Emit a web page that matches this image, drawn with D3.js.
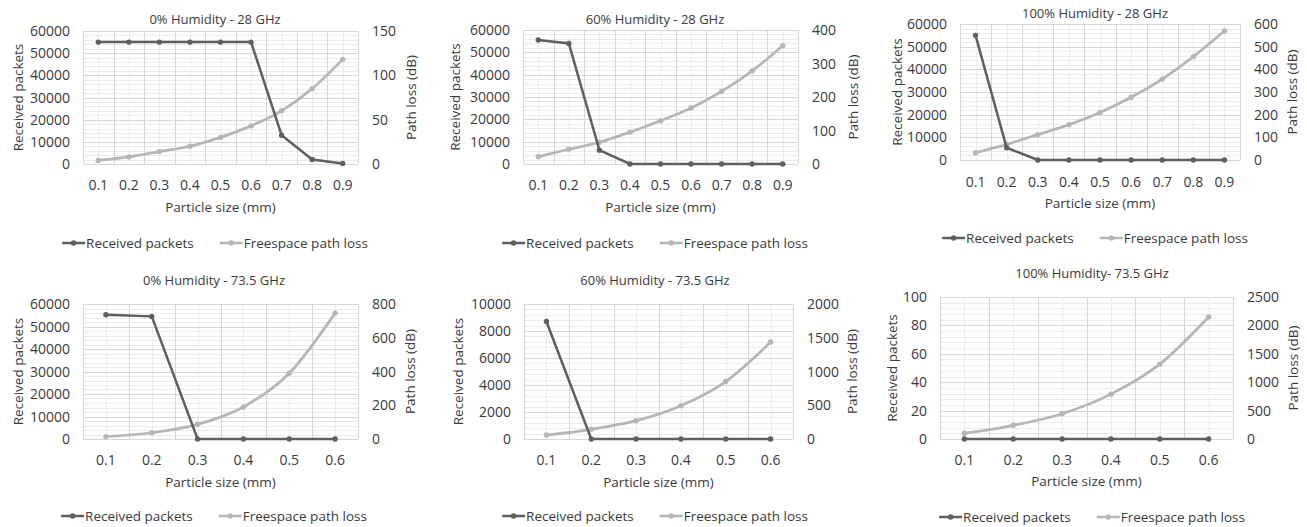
<!DOCTYPE html>
<meta charset="utf-8">
<html>
  <head>
    <style>
      body { margin: 0; background: #fff; }
      text { font-family: "Open Sans", sans-serif; fill: #3a3a3a; }
      .tick-label { font-size: 14px; }
      .axis-title { font-size: 13.5px; }
      .chart-title { font-size: 13px; }
      .legend-text { font-size: 13.5px; }
    </style>
    <script src="https://d3js.org/d3.v7.min.js"></script>
  </head>
  <body>
<div id="my_dataviz"></div>

<script type="text/javascript">
// categories
var sizes28 = ["0.1", "0.2", "0.3", "0.4", "0.5", "0.6", "0.7", "0.8", "0.9"];
var sizes73 = ["0.1", "0.2", "0.3", "0.4", "0.5", "0.6"];

var titles = ["0% Humidity - 28 GHz", "60% Humidity - 28 GHz", "100% Humidity - 28 GHz",
              "0% Humidity - 73.5 GHz", "60% Humidity - 73.5 GHz", "100% Humidity- 73.5 GHz"];

// Received packets per chart
var received = [
  [55000, 55000, 55000, 55000, 55000, 55000, 13000, 2000, 200],
  [55500, 54000, 6200, 0, 0, 0, 0, 0, 0],
  [55000, 5400, 0, 0, 0, 0, 0, 0, 0],
  [55200, 54500, 0, 0, 0, 0],
  [8700, 0, 0, 0, 0, 0],
  [0, 0, 0, 0, 0, 0]
];

// Freespace path loss (dB) per chart
var pathLoss = [
  [4, 8, 14, 20, 30, 43, 60, 85, 118],
  [22, 44, 65, 95, 129, 167, 217, 278, 353],
  [32, 69, 112, 156, 210, 277, 357, 456, 569],
  [14, 37, 87, 190, 390, 746],
  [59, 144, 272, 494, 851, 1436],
  [100, 241, 445, 790, 1318, 2149]
];

// axis ranges
var leftMax = [60000, 60000, 60000, 60000, 10000, 100];
var leftStep = [10000, 10000, 10000, 10000, 2000, 20];
var rightMax = [150, 400, 600, 800, 2000, 2500];
var rightStep = [50, 100, 100, 200, 500, 500];

// layout of each chart on the page
var layout = [
  {l: 83,  r: 358,  t: 31,  b: 164, cx: 215,  titleY: 19,  tickY: 185, xTitleY: 207, legY: 243, yt: 18,  yt2: 411},
  {l: 523, r: 798,  t: 30,  b: 164, cx: 655,  titleY: 19,  tickY: 185, xTitleY: 207, legY: 243, yt: 455, yt2: 853},
  {l: 960, r: 1240, t: 24,  b: 160, cx: 1095, titleY: 13,  tickY: 182, xTitleY: 203, legY: 238, yt: 897, yt2: 1292},
  {l: 83,  r: 358,  t: 304, b: 439, cx: 214,  titleY: 280, tickY: 460, xTitleY: 482, legY: 516, yt: 18,  yt2: 410},
  {l: 524, r: 793,  t: 304, b: 439, cx: 655,  titleY: 280, tickY: 460, xTitleY: 482, legY: 516, yt: 458, yt2: 852},
  {l: 940, r: 1233, t: 297, b: 439, cx: 1092, titleY: 273, tickY: 460, xTitleY: 481, legY: 517, yt: 892, yt2: 1293}
];

var darkColor = "#5f5f5f", lightColor = "#b6b6b6";

var svg = d3.select("#my_dataviz")
  .append("svg")
  .attr("width", 1307)
  .attr("height", 527);

layout.forEach(function(p, i) {
  var cats = received[i].length == 9 ? sizes28 : sizes73;
  var g = svg.append("g");

  var xBand = d3.scaleBand().domain(cats).range([p.l, p.r]);
  var x = function(c) { return xBand(c) + xBand.bandwidth() / 2; };
  var y = d3.scaleLinear().domain([0, leftMax[i]]).range([p.b, p.t]);
  var y2 = d3.scaleLinear().domain([0, rightMax[i]]).range([p.b, p.t]);

  // minor horizontal gridlines
  var minor = d3.range(0, leftMax[i] + 1e-9, leftStep[i] / 5);
  g.selectAll(".hminor").data(minor).enter().append("line")
    .attr("x1", p.l).attr("x2", p.r)
    .attr("y1", function(d) { return Math.round(y(d)) + 0.5; })
    .attr("y2", function(d) { return Math.round(y(d)) + 0.5; })
    .attr("stroke", "#ececec").attr("stroke-width", 1);

  // minor vertical gridlines (category centres)
  g.selectAll(".vminor").data(cats).enter().append("line")
    .attr("x1", function(d) { return Math.round(x(d)) + 0.5; })
    .attr("x2", function(d) { return Math.round(x(d)) + 0.5; })
    .attr("y1", p.t).attr("y2", p.b)
    .attr("stroke", "#ececec").attr("stroke-width", 1);

  // major horizontal gridlines
  var major = d3.range(0, leftMax[i] + 1e-9, leftStep[i]);
  g.selectAll(".hmajor").data(major).enter().append("line")
    .attr("x1", p.l).attr("x2", p.r)
    .attr("y1", function(d) { return Math.round(y(d)) + 0.5; })
    .attr("y2", function(d) { return Math.round(y(d)) + 0.5; })
    .attr("stroke", "#d6d6d6").attr("stroke-width", 1);

  // major vertical gridlines (category boundaries)
  var bounds = cats.map(function(c) { return xBand(c); }).concat([p.r]);
  g.selectAll(".vmajor").data(bounds).enter().append("line")
    .attr("x1", function(d) { return Math.round(d) + 0.5; })
    .attr("x2", function(d) { return Math.round(d) + 0.5; })
    .attr("y1", p.t).attr("y2", p.b)
    .attr("stroke", "#d6d6d6").attr("stroke-width", 1);

  // left axis labels
  g.selectAll(".ylab").data(major).enter().append("text")
    .attr("class", "tick-label")
    .attr("x", p.l - 13)
    .attr("y", function(d) { return y(d); })
    .attr("dy", "0.36em")
    .style("text-anchor", "end")
    .text(function(d) { return d; });

  // right axis labels
  var ticks2 = d3.range(0, rightMax[i] + 1e-9, rightStep[i]);
  g.selectAll(".y2lab").data(ticks2).enter().append("text")
    .attr("class", "tick-label")
    .attr("x", p.r + 14)
    .attr("y", function(d) { return y2(d); })
    .attr("dy", "0.36em")
    .text(function(d) { return d; });

  // x labels
  g.selectAll(".xlab").data(cats).enter().append("text")
    .attr("class", "tick-label")
    .attr("x", function(d) { return x(d); })
    .attr("y", p.tickY)
    .attr("dy", "0.36em")
    .style("text-anchor", "middle")
    .text(function(d) { return d; });

  // titles
  g.append("text").attr("class", "chart-title")
    .attr("x", p.cx).attr("y", p.titleY).attr("dy", "0.36em")
    .style("text-anchor", "middle").text(titles[i]);
  g.append("text").attr("class", "axis-title")
    .attr("x", (p.l + p.r) / 2).attr("y", p.xTitleY).attr("dy", "0.36em")
    .style("text-anchor", "middle").text("Particle size (mm)");
  g.append("text").attr("class", "axis-title")
    .attr("transform", "translate(" + p.yt + "," + (p.t + p.b) / 2 + ") rotate(-90)")
    .attr("dy", "0.36em")
    .style("text-anchor", "middle").text("Received packets");
  g.append("text").attr("class", "axis-title")
    .attr("transform", "translate(" + p.yt2 + "," + (p.t + p.b) / 2 + ") rotate(-90)")
    .attr("dy", "0.36em")
    .style("text-anchor", "middle").text("Path loss (dB)");

  // series
  var lossLine = d3.line()
    .x(function(d, j) { return x(cats[j]); })
    .y(function(d) { return y2(d); })
    .curve(d3.curveMonotoneX);
  g.append("path").datum(pathLoss[i])
    .attr("d", lossLine)
    .attr("fill", "none").attr("stroke", lightColor).attr("stroke-width", 2.75);
  g.selectAll(".lossdot").data(pathLoss[i]).enter().append("circle")
    .attr("cx", function(d, j) { return x(cats[j]); })
    .attr("cy", function(d) { return y2(d); })
    .attr("r", 2.7).attr("fill", lightColor);

  var recLine = d3.line()
    .x(function(d, j) { return x(cats[j]); })
    .y(function(d) { return y(d); });
  g.append("path").datum(received[i])
    .attr("d", recLine)
    .attr("fill", "none").attr("stroke", darkColor).attr("stroke-width", 2.5);
  g.selectAll(".recdot").data(received[i]).enter().append("circle")
    .attr("cx", function(d, j) { return x(cats[j]); })
    .attr("cy", function(d) { return y(d); })
    .attr("r", 2.7).attr("fill", darkColor);

  // legend
  var leg = g.append("g");
  var items = [{name: "Received packets", color: darkColor}, {name: "Freespace path loss", color: lightColor}];
  var xpos = 0;
  items.forEach(function(it, k) {
    leg.append("line").attr("x1", xpos).attr("x2", xpos + 23)
      .attr("y1", 0).attr("y2", 0)
      .attr("stroke", it.color).attr("stroke-width", 2.5);
    leg.append("circle").attr("cx", xpos + 11.5).attr("cy", 0).attr("r", 2.7).attr("fill", it.color);
    var t = leg.append("text").attr("class", "legend-text")
      .attr("x", xpos + 24).attr("y", 0).attr("dy", "0.36em").text(it.name);
    xpos += 24 + t.node().getComputedTextLength() + 26;
  });
  var legW = xpos - 26;
  leg.attr("transform", "translate(" + (p.cx - legW / 2) + "," + p.legY + ")");
});
</script>
</body>
</html>
